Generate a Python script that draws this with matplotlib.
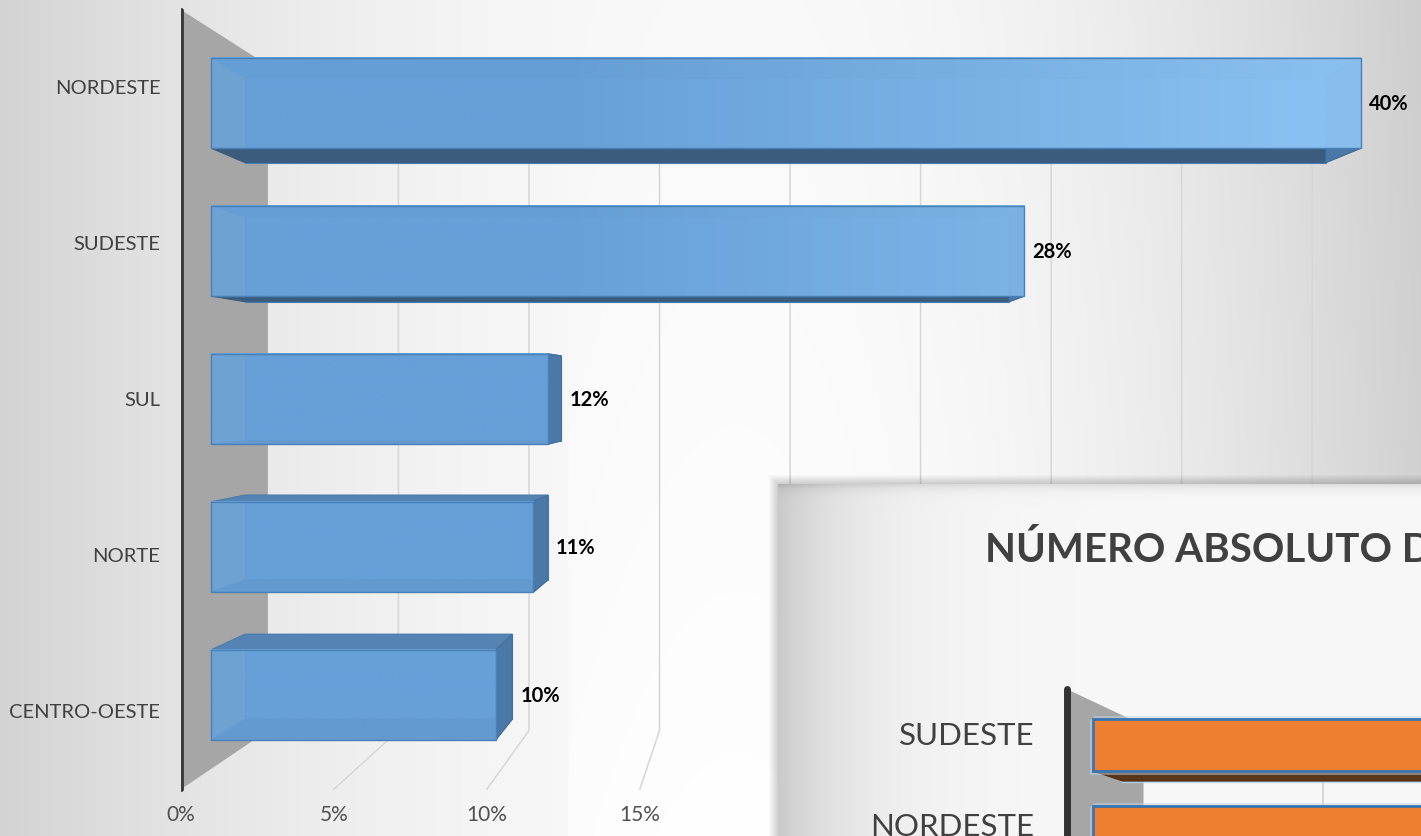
import numpy as np
import matplotlib
matplotlib.use("Agg")
import matplotlib.pyplot as plt
from matplotlib.patches import Polygon, Rectangle
from matplotlib.colors import to_rgb

plt.rcParams['font.family'] = ['Lato', 'DejaVu Sans']

# ---------------- data ----------------
categories = ["NORDESTE", "SUDESTE", "SUL", "NORTE", "CENTRO-OESTE"]
percent_values = [39.6, 28.0, 11.6, 11.1, 9.8]
x_ticks = [0, 5, 10, 15, 20, 25, 30, 35, 40]
# only the tick labels not hidden behind the second chart are visible
x_tick_labels = ["0%", "5%", "10%", "15%"]

inset_title = "NÚMERO ABSOLUTO DE CASOS POR REGIÃO"
inset_categories = ["SUDESTE", "NORDESTE"]
inset_values = [2400, 2300]
inset_ticks = [0, 500, 1000, 1500, 2000, 2500]

# ---------------- figure ----------------
W, H = 1421, 837
fig = plt.figure(figsize=(W / 100, H / 100), dpi=100)

# background gradient
bg = fig.add_axes([0, 0, 1, 1], zorder=-10)
xx = np.linspace(0, 1, 500)
yy = np.linspace(0, 1, 300)
X, Y = np.meshgrid(xx, yy)
v = np.where(X < 0.52,
             0.978 - 0.15 * ((X - 0.52) / 0.52) ** 2,
             0.978 - 0.17 * ((X - 0.52) / 0.48) ** 2)
v = v + 0.02 * Y * (X > 0.4)
v = np.clip(v, 0, 1)
bg.imshow(np.dstack([v, v, v]), extent=[0, 1, 0, 1], aspect='auto')
bg.axis('off')

# ---------------- main chart ----------------
ax = fig.add_axes([181 / W, 0, 1 - 181 / W, 1], zorder=0)
ax.patch.set_alpha(0)
ax.axis('off')
PX_PER_PCT, X0_PX = 29.04, 211
ROW_PX, ROW0_PX = 148, 104
XLIM = ((181 - X0_PX) / PX_PER_PCT, (W - X0_PX) / PX_PER_PCT)
YLIM = ((H - ROW0_PX) / ROW_PX, (0 - ROW0_PX) / ROW_PX)

VX, VY = 19.4, 1.93
S_FRONT, S_BACK, S_WALL, S_FLOOR = 1.0, 0.94, 0.899, 1.053


def P(x, y, s):
    return (VX + s * (x - VX), VY + s * (y - VY))


n = len(categories)
ytop, ybot = -0.5, n - 0.5

# side wall
ax.add_patch(Polygon([P(0, ytop, S_FLOOR), P(0, ytop, S_WALL),
                      P(0, ybot, S_WALL), P(0, ybot, S_FLOOR)],
                     closed=True, fc='#a6a6a6', ec='none', zorder=1))
# gridlines on back wall + floor
for t in x_ticks[1:]:
    pts = [P(t, ytop, S_WALL), P(t, ybot, S_WALL), P(t, ybot, S_FLOOR)]
    ax.plot([p[0] for p in pts], [p[1] for p in pts], color='#d6d6d6', lw=1.1, zorder=2)
# axis line (front edge of wall)
a, b = P(0, ytop, S_FLOOR), P(0, ybot, S_FLOOR)
ax.plot([a[0], b[0]], [a[1], b[1]], color='#3a3a3a', lw=3.5, solid_capstyle='round', zorder=3)

HALF = 0.305
c_left = np.array(to_rgb('#68a2d9'))
c_right = np.array(to_rgb('#90c6f6'))
for i, (cat, val) in enumerate(zip(categories, percent_values)):
    yt, yb = i - HALF, i + HALF
    F = [P(0, yt, S_FRONT), P(val, yt, S_FRONT), P(val, yb, S_FRONT), P(0, yb, S_FRONT)]
    B = [P(0, yt, S_BACK), P(val, yt, S_BACK), P(val, yb, S_BACK), P(0, yb, S_BACK)]
    ax.add_patch(Polygon(B, fc='#5e95cc', ec='#4d83ba', lw=0.8, zorder=4))
    ax.add_patch(Polygon([F[0], F[1], B[1], B[0]], fc='#5484b4', ec='#4a7bab', lw=0.8, zorder=4))
    ax.add_patch(Polygon([F[3], F[2], B[2], B[3]], fc='#3b5c7d', ec='#3b5c7d', lw=0.8, zorder=4))
    ax.add_patch(Polygon([F[1], F[2], B[2], B[1]], fc='#4a79a8', ec='#41709f', lw=0.8, zorder=4))
    xs = np.linspace(0, val, 300)
    tt = np.clip((xs - 12) / 26, 0, 1)
    cols = c_left[None, :] * (1 - tt[:, None]) + c_right[None, :] * tt[:, None]
    img = np.repeat(cols[None, :, :], 2, axis=0)
    ax.imshow(img, extent=(0, val, yb, yt), aspect='auto', alpha=0.9,
              zorder=5, interpolation='bilinear')
    ax.add_patch(Polygon(F, fc='none', ec='#4a80b8', lw=1.0, zorder=6))
    xr = max(F[1][0], B[1][0])
    ax.annotate(f"{val:.0f}%", xy=(xr, i), xytext=(6, 0), textcoords='offset points',
                ha='left', va='center', fontsize=14.5, fontweight='bold', color='black',
                zorder=8, annotation_clip=False)
    ax.annotate(cat, xy=P(0, i, S_FLOOR), xytext=(-15, 0), textcoords='offset points',
                ha='right', va='center', fontsize=14.5, color='#404040', annotation_clip=False)

for t, lab in zip(x_ticks, x_tick_labels):
    ax.annotate(lab, xy=P(t, ybot, S_FLOOR), xytext=(0, -18), textcoords='offset points',
                ha='center', va='center', fontsize=15, color='#505050', annotation_clip=False)

ax.set_xlim(*XLIM)
ax.set_ylim(*YLIM)

# ---------------- inset chart (second chart partially visible) ----------------
IX0, IY0 = 778, 485
for k in range(1, 10):
    fig.add_artist(Rectangle(((IX0 - k) / W, 0), (W - IX0 + k) / W, (H - IY0 + k) / H,
                             transform=fig.transFigure, fc='black', ec='none',
                             alpha=0.02, zorder=4))
ia = fig.add_axes([IX0 / W, 0, (W - IX0) / W, (H - IY0) / H], zorder=5)
ia.axis('off')
I_PX_PER_UNIT, I_X0_PX = 0.4, 1093
I_ROW_PX, I_ROW0_PX = 87, 746
IXLIM = ((IX0 - I_X0_PX) / I_PX_PER_UNIT, (W - I_X0_PX) / I_PX_PER_UNIT)
IYLIM = ((H - I_ROW0_PX) / I_ROW_PX, (IY0 - I_ROW0_PX) / I_ROW_PX)

# inset background
ixs = np.linspace(IX0, W, 400)
iys = np.linspace(IY0, H, 250)
IXg, IYg = np.meshgrid(ixs, iys)
iv = 0.972 - 0.18 * np.exp(-(IXg - IX0) / 75.0)
iv = iv - 0.10 * np.exp(-(IYg - IY0) / 5.0)
iv = np.clip(iv, 0, 1)
ia.imshow(np.dstack([iv, iv, iv]), extent=(IXLIM[0], IXLIM[1], IYLIM[0], IYLIM[1]),
          aspect='auto', zorder=0)

IVX, IVY = 1250.0, 2.207


def IP(x, y, s):
    return (IVX + s * (x - IVX), IVY + s * (y - IVY))


iytop, iybot = -0.5, 4.5
ia.add_patch(Polygon([IP(0, iytop, S_FLOOR), IP(0, iytop, S_WALL),
                      IP(0, iybot, S_WALL), IP(0, iybot, S_FLOOR)],
                     closed=True, fc='#a6a6a6', ec='none', zorder=1))
for t in inset_ticks[1:]:
    pts = [IP(t, iytop, S_WALL), IP(t, iybot, S_WALL)]
    ia.plot([p[0] for p in pts], [p[1] for p in pts], color='#d6d6d6', lw=1.3, zorder=2)
a, b = IP(0, iytop, S_FLOOR), IP(0, iybot, S_FLOOR)
ia.plot([a[0], b[0]], [a[1], b[1]], color='#333333', lw=5, solid_capstyle='round', zorder=3)

IHALF = 0.30
for i, (cat, val) in enumerate(zip(inset_categories, inset_values)):
    yt, yb = i - IHALF, i + IHALF
    F = [IP(0, yt, S_FRONT), IP(val, yt, S_FRONT), IP(val, yb, S_FRONT), IP(0, yb, S_FRONT)]
    B = [IP(0, yt, S_BACK), IP(val, yt, S_BACK), IP(val, yb, S_BACK), IP(0, yb, S_BACK)]
    ia.add_patch(Polygon(B, fc='#c8dcf0', ec='#b8d2ec', lw=2.5, alpha=0.8, zorder=4))
    ia.add_patch(Polygon([F[3], F[2], B[2], B[3]], fc='#5a3517', ec='#4a2c12', lw=0.8, zorder=4))
    ia.add_patch(Polygon(F, fc='#ef7f30', ec='#3b74ad', lw=2.0, zorder=5))
    ia.add_patch(Polygon(F, fc='none', ec='#bcd6ee', lw=5, alpha=0.5, zorder=4.5))
    ia.annotate(cat, xy=IP(0, i, S_FLOOR), xytext=(-23, 0), textcoords='offset points',
                ha='right', va='center', fontsize=22.5, color='#404040', annotation_clip=False)

ia.text(0.322, 0.815, inset_title, transform=ia.transAxes, fontsize=29, fontweight='bold',
        color='#404040', ha='left', va='center', clip_on=True, zorder=6)

ia.set_xlim(*IXLIM)
ia.set_ylim(*IYLIM)

fig.savefig("out.png", dpi=100)
